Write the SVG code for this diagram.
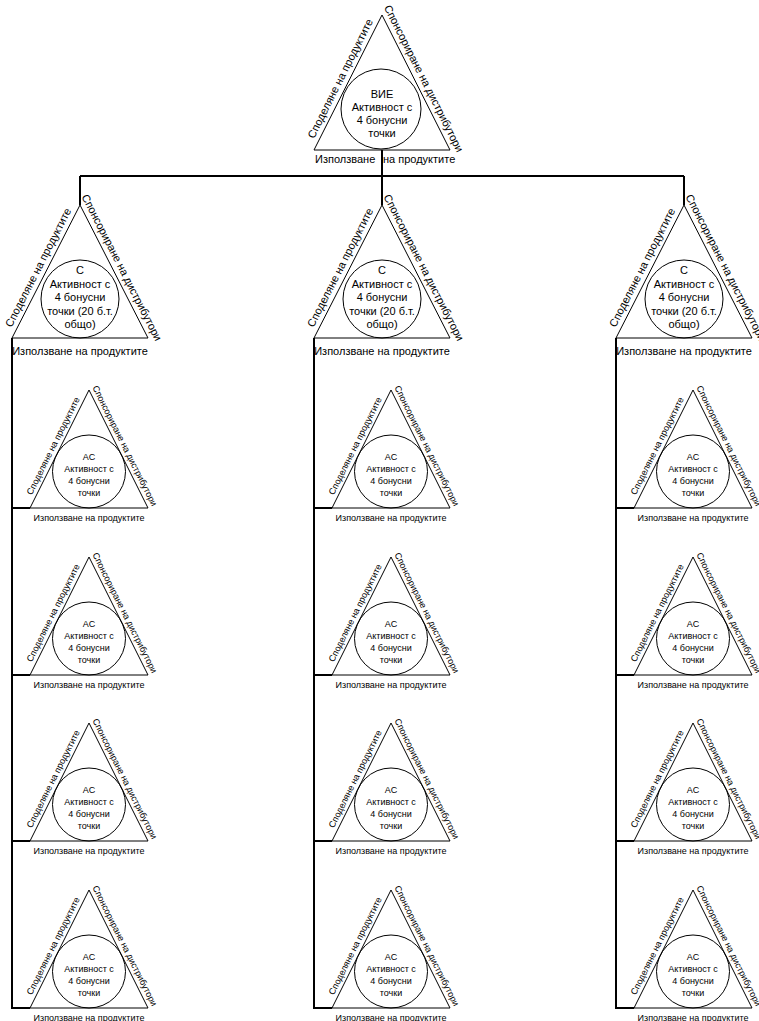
<svg xmlns="http://www.w3.org/2000/svg" width="759" height="1021" viewBox="0 0 759 1021">
<style>
  .shape { fill: none; stroke: #000; stroke-width: 1; }
  .conn { fill: none; stroke: #000; stroke-width: 2; }
  .t11 { font-family: "Liberation Sans", Arial, sans-serif; font-size: 11px; fill: #000; }
  .t9 { font-family: "Liberation Sans", Arial, sans-serif; font-size: 9px; fill: #000; }
  .mid { text-anchor: middle; }
</style>
<defs>
  <g id="tplC">
    <path class="shape" d="M0 0 L68 133 L-68 133 Z"/>
    <circle class="shape" cx="0" cy="94" r="39"/>
    <text class="t11 mid" transform="translate(-34 66.5) rotate(-62.93)" x="0" y="-5">Споделяне на продуктите</text>
    <text class="t11 mid" transform="translate(34 66.5) rotate(62.93)" x="0" y="-5">Спонсориране на дистрибутори</text>
    <text class="t11 mid" x="0" y="150">Използване на продуктите</text>
  </g>
  <g id="tplA">
    <path class="shape" d="M0 0 L59 118 L-59 118 Z"/>
    <circle class="shape" cx="0" cy="81.5" r="36.5"/>
    <text class="t9 mid" transform="translate(-29.5 59) rotate(-63.43)" x="0" y="-4">Споделяне на продуктите</text>
    <text class="t9 mid" transform="translate(29.5 59) rotate(63.43)" x="0" y="-4">Спонсориране на дистрибутори</text>
    <text class="t9 mid" x="0" y="131">Използване на продуктите</text>
    <text class="t9 mid" x="0" y="70">АС</text>
    <text class="t9 mid" x="0" y="82">Активност с</text>
    <text class="t9 mid" x="0" y="94">4 бонусни</text>
    <text class="t9 mid" x="0" y="106">точки</text>
  </g>
  <g id="tplCtext">
    <text class="t11 mid" x="0" y="69">С</text>
    <text class="t11 mid" x="0" y="83">Активност с</text>
    <text class="t11 mid" x="0" y="96">4 бонусни</text>
    <text class="t11 mid" x="0" y="110">точки (20 б.т.</text>
    <text class="t11 mid" x="0" y="123">общо)</text>
  </g>
</defs>

<g id="connectors">
  <path class="conn" d="M382 150 V205"/>
  <path class="conn" d="M80 176 H684"/>
  <path class="conn" d="M80 176 V205"/>
  <path class="conn" d="M684 176 V205"/>
  <path class="conn" d="M12 338 V1008 H30 M12 508 H30 M12 675 H30 M12 841 H30"/>
  <path class="conn" d="M314 338 V1008 H332 M314 508 H332 M314 675 H332 M314 841 H332"/>
  <path class="conn" d="M616 338 V1008 H634 M616 508 H634 M616 675 H634 M616 841 H634"/>
</g>

<g id="node-top" transform="translate(382 15)">
  <path class="shape" d="M0 0 L68 135 L-68 135 Z"/>
  <circle class="shape" cx="-1" cy="94" r="40"/>
  <text class="t11 mid" transform="translate(-34 67.5) rotate(-63.27)" x="0" y="-5">Споделяне на продуктите</text>
  <text class="t11 mid" transform="translate(34 67.5) rotate(63.27)" x="0" y="-5">Спонсориране на дистрибутори</text>
  <text class="t11"><tspan x="-67" y="148">Използване</tspan><tspan x="1" y="148">на продуктите</tspan></text>
  <text class="t11 mid" x="0" y="83">ВИЕ</text>
  <text class="t11 mid" x="0" y="96">Активност с</text>
  <text class="t11 mid" x="0" y="109">4 бонусни</text>
  <text class="t11 mid" x="0" y="122">точки</text>
</g>

<g id="node-c1" transform="translate(80 205)"><use href="#tplC"/><use href="#tplCtext"/></g>
<g id="node-c2" transform="translate(382 205)"><use href="#tplC"/><use href="#tplCtext"/></g>
<g id="node-c3" transform="translate(684 205)"><use href="#tplC"/><use href="#tplCtext"/></g>

<g id="node-a11" transform="translate(89 390)"><use href="#tplA"/></g>
<g id="node-a12" transform="translate(89 557)"><use href="#tplA"/></g>
<g id="node-a13" transform="translate(89 723)"><use href="#tplA"/></g>
<g id="node-a14" transform="translate(89 890)"><use href="#tplA"/></g>

<g id="node-a21" transform="translate(391 390)"><use href="#tplA"/></g>
<g id="node-a22" transform="translate(391 557)"><use href="#tplA"/></g>
<g id="node-a23" transform="translate(391 723)"><use href="#tplA"/></g>
<g id="node-a24" transform="translate(391 890)"><use href="#tplA"/></g>

<g id="node-a31" transform="translate(693 390)"><use href="#tplA"/></g>
<g id="node-a32" transform="translate(693 557)"><use href="#tplA"/></g>
<g id="node-a33" transform="translate(693 723)"><use href="#tplA"/></g>
<g id="node-a34" transform="translate(693 890)"><use href="#tplA"/></g>
</svg>
